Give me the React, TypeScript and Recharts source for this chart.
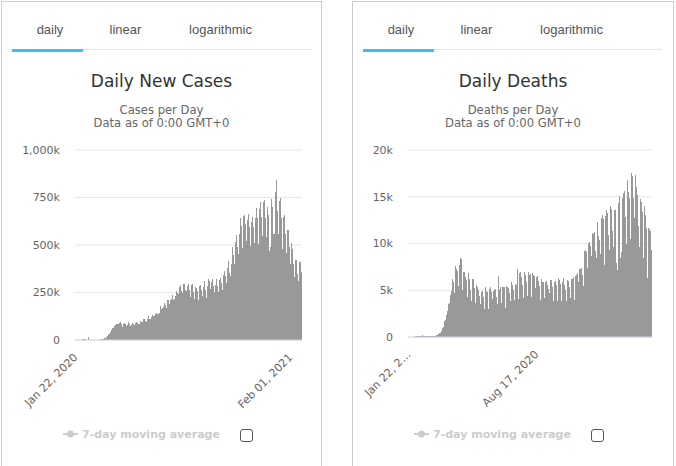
import { BarChart, Bar, XAxis, YAxis, CartesianGrid } from 'recharts';

const FONT = '"DejaVu Sans", sans-serif';
const TAB_FONT = '"Liberation Sans", Arial, sans-serif';

// first day of the series, one value per day after it
const startDay = { year: 2020, month: 0, day: 22 };
const monthNames = ['Jan', 'Feb', 'Mar', 'Apr', 'May', 'Jun', 'Jul', 'Aug', 'Sep', 'Oct', 'Nov', 'Dec'];

// daily new cases, thousands (rows are weeks starting on a Wednesday)
const casesK = [
  0.6, 0.1, 0.3, 0.5, 0.7, 0.8, 1.4,
  1.8, 2.1, 2.0, 2.1, 2.6, 3.2, 3.9,
  3.7, 3.2, 3.4, 2.7, 3.0, 2.5, 2.1,
  2.0, 15.1, 6.5, 2.1, 2.6, 2.1, 1.9,
  0.5, 0.6, 1.0, 0.9, 0.7, 0.5, 0.8,
  1.1, 1.3, 1.6, 1.8, 2.2, 2.0, 2.4,
  2.6, 2.7, 3.9, 3.9, 4.0, 4.2, 4.7,
  7.4, 7.9, 10.8, 10.9, 13.0, 14.0, 17.5,
  18.8, 26.3, 31.3, 33.4, 33.2, 38.5, 43.3,
  51.5, 62.0, 64.2, 61.7, 58.4, 63.1, 74.3,
  78, 82, 82, 83, 79, 73, 84,
  87, 86, 94, 86, 79, 70, 70,
  83, 90, 87, 84, 74, 76, 71,
  78, 87, 95, 86, 72, 71, 74,
  78, 90, 91, 84, 78, 77, 81,
  91, 93, 92, 87, 77, 75, 85,
  86, 100, 100, 96, 84, 91, 95,
  108, 108, 106, 102, 89, 92, 96,
  109, 119, 124, 112, 103, 102, 113,
  120, 129, 133, 124, 108, 106, 124,
  135, 139, 142, 131, 135, 119, 139,
  141, 180, 144, 163, 130, 138, 168,
  174, 182, 196, 185, 163, 166, 170,
  209, 211, 208, 189, 176, 172, 210,
  216, 229, 237, 208, 196, 196, 215,
  234, 257, 244, 247, 216, 205, 243,
  281, 288, 292, 258, 213, 218, 246,
  293, 293, 290, 261, 231, 218, 256,
  283, 293, 286, 264, 233, 228, 267,
  290, 293, 294, 254, 230, 215, 259,
  277, 273, 270, 256, 217, 210, 254,
  284, 287, 277, 265, 225, 231, 263,
  281, 293, 313, 264, 242, 220, 244,
  284, 300, 321, 309, 265, 266, 286,
  303, 320, 320, 286, 258, 252, 281,
  290, 320, 319, 286, 243, 252, 286,
  317, 324, 320, 302, 253, 264, 310,
  342, 361, 364, 337, 277, 299, 327,
  381, 400, 416, 351, 306, 337, 390,
  401, 490, 485, 445, 368, 399, 477,
  518, 555, 551, 490, 413, 455, 494,
  560, 620, 640, 602, 519, 485, 545,
  652, 660, 655, 608, 513, 520, 596,
  630, 663, 660, 596, 498, 497, 556,
  620, 580, 645, 594, 499, 511, 562,
  640, 690, 695, 640, 560, 505, 612,
  692, 705, 728, 650, 521, 550, 650,
  725, 735, 720, 640, 530, 540, 620,
  700, 660, 480, 440, 470, 490, 620,
  740, 700, 540, 560, 540, 560, 720,
  780, 840, 760, 680, 600, 560, 680,
  730, 750, 690, 640, 540, 480, 580,
  650, 660, 620, 560, 470, 460, 540,
  580, 580, 540, 490, 400, 400, 480,
  510, 480, 460, 400, 330, 330, 400,
  420, 420, 400, 350, 290, 310, 400,
  410, 410, 390, 360, 300,
];

// daily deaths, thousands
const deathsK = [
  0.02, 0.01, 0.01, 0.02, 0.02, 0.02, 0.03,
  0.04, 0.04, 0.05, 0.05, 0.06, 0.06, 0.07,
  0.07, 0.07, 0.08, 0.09, 0.10, 0.11, 0.11,
  0.12, 0.25, 0.15, 0.14, 0.14, 0.10, 0.14,
  0.13, 0.12, 0.10, 0.10, 0.10, 0.15, 0.08,
  0.06, 0.05, 0.06, 0.06, 0.07, 0.07, 0.08,
  0.10, 0.10, 0.10, 0.10, 0.23, 0.20, 0.27,
  0.33, 0.35, 0.44, 0.39, 0.60, 0.60, 0.80,
  0.95, 1.1, 1.4, 1.7, 1.7, 1.8, 2.4,
  2.6, 2.8, 3.5, 3.6, 3.3, 3.3, 4.5,
  4.9, 5.5, 6.2, 5.9, 4.9, 4.7, 7.6,
  6.5, 7.3, 7.1, 6.2, 5.4, 5.5, 7.7,
  8.4, 6.9, 8.3, 6.5, 5.0, 4.8, 7.0,
  6.9, 6.4, 5.9, 6.1, 3.8, 4.3, 6.3,
  6.8, 6.2, 5.3, 5.0, 3.9, 3.6, 6.2,
  6.2, 5.5, 5.2, 4.5, 3.6, 3.4, 5.6,
  5.4, 5.1, 5.0, 4.4, 3.3, 3.5, 4.8,
  4.7, 4.9, 4.7, 4.3, 2.9, 3.0, 4.7,
  5.3, 4.9, 4.8, 4.0, 3.0, 3.3, 5.1,
  5.4, 5.3, 4.8, 4.1, 3.1, 3.4, 4.9,
  5.0, 5.1, 4.6, 4.3, 3.5, 3.3, 6.5,
  5.2, 5.0, 5.4, 4.3, 3.6, 3.5, 5.4,
  5.4, 5.2, 5.3, 4.6, 3.1, 3.6, 5.5,
  5.3, 5.2, 5.0, 4.7, 3.6, 3.9, 5.9,
  5.6, 5.4, 5.6, 5.0, 4.0, 3.7, 5.7,
  5.6, 5.5, 7.3, 5.0, 4.1, 3.9, 6.8,
  7.0, 6.9, 6.4, 5.6, 4.0, 4.2, 6.6,
  6.9, 6.6, 6.6, 5.9, 4.3, 4.4, 6.9,
  6.8, 6.6, 6.7, 5.8, 4.3, 4.6, 6.8,
  6.6, 6.4, 6.5, 5.2, 4.0, 4.3, 6.4,
  6.5, 6.0, 5.9, 5.5, 4.0, 4.0, 6.1,
  6.2, 5.9, 5.9, 5.2, 4.0, 4.2, 5.9,
  6.0, 5.9, 5.6, 5.1, 3.9, 3.5, 4.7,
  6.1, 5.8, 6.1, 5.3, 3.8, 3.8, 5.7,
  5.9, 6.0, 5.6, 5.0, 3.7, 3.9, 6.3,
  6.1, 5.9, 5.7, 5.0, 3.8, 3.9, 5.9,
  6.3, 6.2, 5.6, 5.0, 3.8, 3.9, 5.9,
  6.1, 6.0, 6.0, 5.4, 3.9, 4.2, 6.2,
  6.2, 6.2, 6.4, 5.5, 4.0, 4.5, 6.5,
  6.6, 6.5, 6.8, 5.9, 4.3, 5.0, 7.3,
  7.3, 7.4, 7.2, 6.6, 5.0, 5.5, 9.2,
  9.1, 9.3, 9.1, 8.3, 6.6, 7.4, 10.1,
  10.2, 9.8, 9.7, 8.7, 6.8, 7.9, 11.1,
  11.0, 11.2, 10.8, 9.2, 7.2, 8.4, 12.3,
  12.3, 10.8, 10.4, 9.5, 7.1, 8.9, 12.7,
  13.0, 12.9, 12.6, 10.2, 7.7, 8.9, 12.9,
  13.6, 13.3, 12.7, 10.9, 7.6, 9.3, 13.8,
  14.0, 13.7, 12.9, 11.3, 8.3, 9.6, 13.6,
  13.6, 11.6, 7.9, 7.1, 7.2, 9.5, 14.3,
  15.1, 12.8, 8.4, 9.1, 8.0, 9.2, 14.9,
  15.4, 15.6, 14.9, 12.8, 8.7, 9.9, 16.8,
  15.7, 15.5, 14.9, 13.0, 9.0, 10.5, 17.5,
  17.2, 16.4, 14.9, 12.7, 8.7, 10.5, 17.3,
  16.0, 15.2, 14.2, 11.9, 8.0, 9.6, 14.8,
  14.6, 14.4, 13.4, 11.1, 7.3, 8.4, 14.0,
  13.0, 12.9, 11.7, 9.6, 6.3, 7.1, 11.7,
  11.5, 11.3, 10.9, 9.3, 6.4,
];

const casesTicks = [0, 250, 500, 750, 1000];
const deathsTicks = [0, 5, 10, 15, 20];
const casesDateTicks = ['Jan 22, 2020', 'Feb 01, 2021'];
const casesDateLabels = ['Jan 22, 2020', 'Feb 01, 2021'];
const deathsDateTicks = ['Jan 22, 2020', 'Aug 17, 2020'];
const deathsDateLabels = ['Jan 22, 2\u2026', 'Aug 17, 2020'];
const tabNames = ['daily', 'linear', 'logarithmic'];
const tabCenters = [49, 124.5, 219.5];

function dayLabel(i: number) {
  const d = new Date(Date.UTC(startDay.year, startDay.month, startDay.day + i));
  return `${monthNames[d.getUTCMonth()]} ${String(d.getUTCDate()).padStart(2, '0')}, ${d.getUTCFullYear()}`;
}

const casesData = casesK.map((v, i) => ({ date: dayLabel(i), value: v }));
const deathsData = deathsK.map((v, i) => ({ date: dayLabel(i), value: v }));

const fmtK = (v: number) => (v === 0 ? '0' : `${v.toLocaleString('en-US')}k`);

// columns narrower than a pixel are drawn 1px wide on a whole pixel, like the original
const DayColumn = (p: any) => (
  <rect x={Math.round(p.x)} y={p.y} width={1} height={Math.max(p.height, 0)} fill="#999" shapeRendering="crispEdges" />
);

function XTick(props: any) {
  const { x, y, payload, ticks, labels } = props;
  const idx = ticks.indexOf(payload.value);
  const label = idx >= 0 ? labels[idx] : payload.value;
  return (
    <g transform={`translate(${x + 3},${y + 18})`}>
      <text textAnchor="end" fill="#666" fontSize={11} fontFamily={FONT} transform="rotate(-45)">
        {label}
      </text>
    </g>
  );
}

function Panel(props: any) {
  const { left, width, title, subtitle, data, yTicks, yMax, yWidth, xTicks, xLabels, chartWidth, chartHeight } = props;
  const center = { position: 'absolute' as const, left, width, textAlign: 'center' as const, whiteSpace: 'nowrap' as const };
  return (
    <>
      <div style={{ position: 'absolute', left, top: 1, width, height: 480, border: '1px solid #ccc', boxSizing: 'border-box' }} />
      <div style={{ position: 'absolute', left: left + 11, top: 49, width: 299, height: 1, background: '#e6e6e6' }} />
      <div style={{ position: 'absolute', left: left + 11, top: 49, width: 71, height: 3, background: '#3cc0ea' }} />
      {tabNames.map((t, i) => (
        <div key={t} style={{ position: 'absolute', left: left + tabCenters[i] - 50, width: 100, top: 22, lineHeight: '15px', fontSize: 13, fontFamily: TAB_FONT, color: '#555', textAlign: 'center' }}>
          {t}
        </div>
      ))}
      <div style={{ ...center, top: 71, lineHeight: '20px', fontSize: 17, color: '#333' }}>{title}</div>
      <div style={{ ...center, top: 104, lineHeight: '13px', fontSize: 11.6, color: '#666' }}>{subtitle}</div>
      <div style={{ ...center, top: 117, lineHeight: '13px', fontSize: 11.6, color: '#666' }}>Data as of 0:00 GMT+0</div>

      <div style={{ position: 'absolute', left, top: 140 }}>
        <BarChart width={chartWidth} height={chartHeight} data={data} barCategoryGap={0} barGap={0}
          margin={{ top: 10, right: 20, bottom: 0, left: 0 }} style={{ overflow: 'visible' }}>
          <CartesianGrid vertical={false} stroke="#e6e6e6" />
          <XAxis dataKey="date" ticks={xTicks} interval={0} height={85} tickLine={false} tickSize={0} tickMargin={0}
            axisLine={{ stroke: '#ccd6eb' }}
            tick={(p: any) => <XTick {...p} ticks={xTicks} labels={xLabels} />} />
          <YAxis width={yWidth} domain={[0, yMax]} ticks={yTicks} interval={0} tickFormatter={fmtK}
            axisLine={false} tickLine={false} tickSize={0} tickMargin={15}
            tick={{ fill: '#666', fontSize: 11, fontFamily: FONT }} />
          <Bar dataKey="value" fill="#999" shape={DayColumn} isAnimationActive={false} />
        </BarChart>
      </div>

      <svg style={{ position: 'absolute', left: left + 60, top: 428 }} width={20} height={12}>
        <line x1={2} y1={6} x2={17} y2={6} stroke="#ccc" strokeWidth={2} />
        <circle cx={9.5} cy={6} r={3.5} fill="#ccc" />
      </svg>
      <div style={{ position: 'absolute', left: left + 81, top: 428, lineHeight: '13px', fontSize: 11, fontWeight: 'bold', color: '#ccc', whiteSpace: 'nowrap' }}>
        7-day moving average
      </div>
      <div style={{ position: 'absolute', left: left + 239, top: 429, width: 13, height: 13, border: '1px solid #555', borderRadius: 3, boxSizing: 'border-box', background: '#fff' }} />
    </>
  );
}

export default function App() {
  return (
    <div style={{ position: 'absolute', left: 0, top: 0, width: 676, height: 466, overflow: 'hidden', background: '#fff', fontFamily: FONT }}>
      <Panel left={1} width={321} title="Daily New Cases" subtitle="Cases per Day" data={casesData}
        yTicks={casesTicks} yMax={1000} yWidth={74} xTicks={casesDateTicks} xLabels={casesDateLabels}
        chartWidth={321} chartHeight={285} />
      <Panel left={352} width={322} title="Daily Deaths" subtitle="Deaths per Day" data={deathsData}
        yTicks={deathsTicks} yMax={20} yWidth={56} xTicks={deathsDateTicks} xLabels={deathsDateLabels}
        chartWidth={320} chartHeight={282} />
    </div>
  );
}
